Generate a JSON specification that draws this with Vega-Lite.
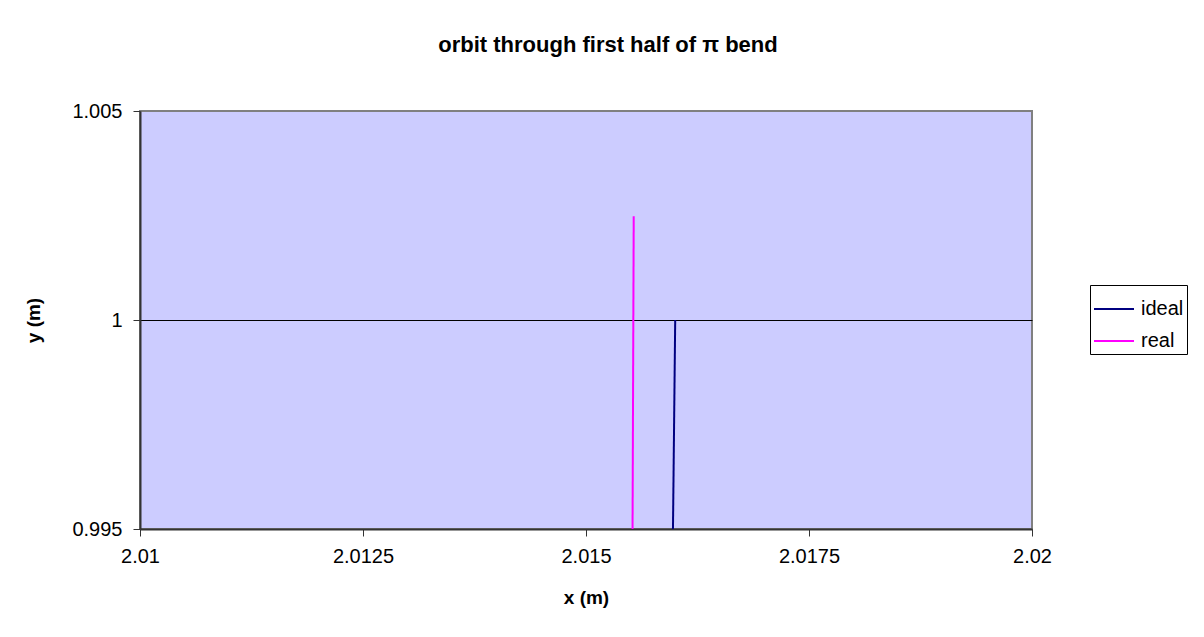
{
  "$schema": "https://vega.github.io/schema/vega-lite/v6.json",
  "width": 892,
  "height": 418,
  "autosize": {"type": "none"},
  "padding": {"left": 140, "top": 111, "right": 172, "bottom": 108},
  "background": "white",
  "title": {
    "text": "orbit through first half of π  bend",
    "font": "Liberation Sans",
    "fontSize": 22,
    "fontWeight": "bold",
    "color": "black",
    "anchor": "middle",
    "dx": 22,
    "offset": 44
  },
  "data": {
    "values": [
      {"series": "ideal", "i": 0, "x": 2.016, "y": 1.0},
      {"series": "ideal", "i": 1, "x": 2.01597, "y": 0.994},
      {"series": "real", "i": 0, "x": 2.015535, "y": 1.00248},
      {"series": "real", "i": 1, "x": 2.01552, "y": 0.994}
    ]
  },
  "mark": {"type": "line", "strokeWidth": 2, "clip": true},
  "encoding": {
    "x": {
      "field": "x", "type": "quantitative",
      "scale": {"domain": [2.01, 2.02], "nice": false, "zero": false},
      "axis": {
        "values": [2.01, 2.0125, 2.015, 2.0175, 2.02],
        "format": ".6~g",
        "labelFlush": false,
        "title": "x (m)",
        "grid": false,
        "labelPadding": 10,
        "titlePadding": 22
      }
    },
    "y": {
      "field": "y", "type": "quantitative",
      "scale": {"domain": [0.995, 1.005], "nice": false, "zero": false},
      "axis": {
        "values": [0.995, 1, 1.005],
        "format": ".6~g",
        "labelFlush": false,
        "title": "y (m)",
        "grid": true,
        "gridColor": {"condition": {"test": "datum.value == 1", "value": "black"}, "value": "#808080"},
        "gridWidth": 1,
        "labelPadding": 11,
        "titlePadding": 28
      }
    },
    "order": {"field": "i", "type": "quantitative"},
    "color": {
      "field": "series", "type": "nominal",
      "scale": {"domain": ["ideal", "real"], "range": ["#000080", "#FF00FF"]},
      "legend": {
        "title": null,
        "orient": "none",
        "legendX": 950,
        "legendY": 174,
        "symbolType": "stroke",
        "symbolSize": 1600,
        "symbolStrokeWidth": 2,
        "labelFont": "Liberation Sans",
        "labelFontSize": 20,
        "labelColor": "black",
        "strokeColor": "black",
        "fillColor": "white",
        "padding": 3,
        "rowPadding": 1,
        "labelOffset": 6
      }
    }
  },
  "config": {
    "view": {"fill": "#CCCCFF", "stroke": "#808080", "strokeWidth": 2},
    "axis": {
      "labelFont": "Liberation Sans",
      "labelFontSize": 20,
      "labelColor": "black",
      "titleFont": "Liberation Sans",
      "titleFontSize": 19,
      "titleFontWeight": "bold",
      "titleColor": "black",
      "domainColor": "#333333",
      "domainWidth": 2,
      "tickColor": "#333333",
      "tickSize": 7
    }
  }
}
